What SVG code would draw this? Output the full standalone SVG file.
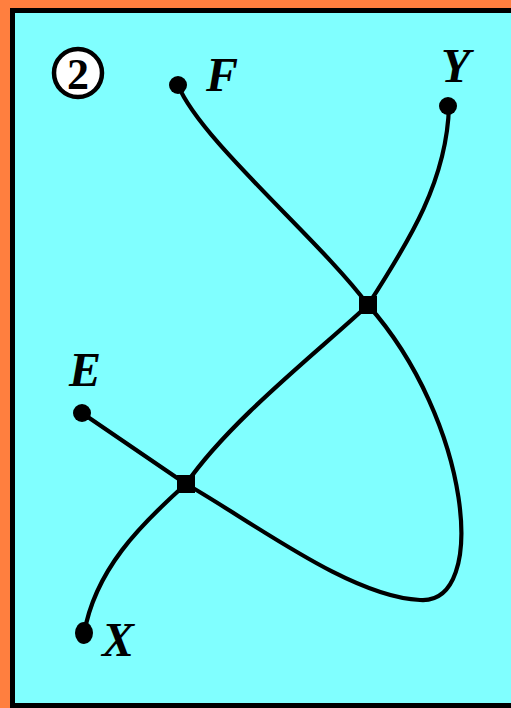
<svg xmlns="http://www.w3.org/2000/svg" width="511" height="708" viewBox="0 0 511 708">
<style>
.edge{fill:none;stroke:#000;stroke-width:4.2;stroke-linecap:round}
.lbl{font-family:"Liberation Serif","Times New Roman",serif;font-style:italic;font-weight:bold;font-size:48px;fill:#000}
.dot{fill:#000}
</style>
<rect x="0" y="0" width="511" height="708" fill="#FF7F3F"/>
<rect x="12.5" y="10.5" width="502" height="695" fill="#80FFFF" stroke="#000" stroke-width="5"/>
<g id="badge">
<circle cx="78" cy="73" r="24" fill="#fff" stroke="#000" stroke-width="4.5"/>
<text x="78" y="89" text-anchor="middle" font-family="Liberation Serif,serif" font-weight="bold" font-size="44">2</text>
</g>
<g id="connectors">
<path class="edge" d="M178,85 C200,140 320,240 368,305"/>
<path class="edge" d="M449,106 C447,180 410,240 368,305"/>
<path class="edge" d="M368,305 C320,350 230,420 186,484"/>
<path class="edge" d="M368,305 C470,420 490,605 420,600 C350,597 250,520 186,484"/>
<path class="edge" d="M82,413 L186,484"/>
<path class="edge" d="M186,484 C140,525 95,570 84,634"/>
</g>
<g id="F"><circle class="dot" cx="178" cy="85" r="9"/><text class="lbl" x="206" y="91">F</text></g>
<g id="Y"><circle class="dot" cx="448" cy="106" r="9"/><text class="lbl" x="441" y="82">Y</text></g>
<g id="E"><circle class="dot" cx="82" cy="413" r="9"/><text class="lbl" x="69" y="386">E</text></g>
<g id="X"><ellipse class="dot" cx="84" cy="633" rx="9" ry="11"/><text class="lbl" x="102" y="656">X</text></g>
<g id="J1"><rect class="dot" x="359" y="296" width="18" height="18"/></g>
<g id="J2"><rect class="dot" x="177" y="475" width="18" height="18"/></g>
</svg>
